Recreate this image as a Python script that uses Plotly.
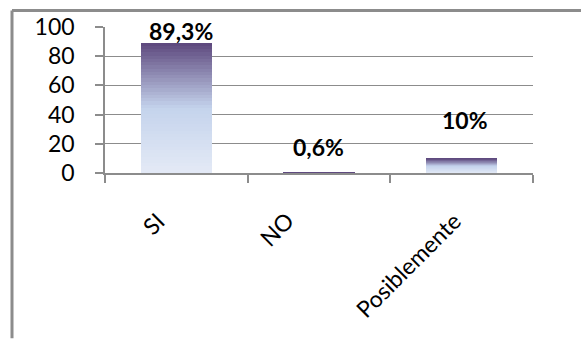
import plotly.graph_objects as go

# ---- data ----
categories = ["SI", "NO", "Posiblemente"]
values = [89.3, 0.6, 10]
value_labels = ["89,3%", "0,6%", "10%"]
y_ticks = [0, 20, 40, 60, 80, 100]

# ---- label placement (style) ----
label_y = [97, 18, 36]          # where the data labels sit (axis units)
label_xshift = [5, -1, 3]
cat_label_xshift = [-3, -17, 7]

# ---- layout constants ----
W, H = 581, 339
ML, MR, MT, MB = 105, 48, 22, 166
PW, PH = W - ML - MR, H - MT - MB
FONT = "Lato, Carlito, Calibri, sans-serif"
GRID = "#8c8c8c"

# gradient stops (t=0 top of bar, t=1 bottom)
stops = [(0.0, (92, 70, 124)), (0.5, (196, 211, 236)), (1.0, (228, 234, 246))]


def grad(t):
    for (t0, c0), (t1, c1) in zip(stops[:-1], stops[1:]):
        if t <= t1:
            f = (t - t0) / (t1 - t0)
            return "rgb(%d,%d,%d)" % tuple(round(a + (b - a) * f) for a, b in zip(c0, c1))
    return "rgb(%d,%d,%d)" % stops[-1][1]


N = 40
fig = go.Figure()
for k in range(N):
    t = 1 - (k + 0.5) / N
    fig.add_trace(go.Bar(
        x=categories,
        y=[v / N for v in values],
        width=0.5,
        marker=dict(color=grad(t), line=dict(width=0)),
        showlegend=False,
        hoverinfo="skip",
    ))

for c, lab, ly, xs in zip(categories, value_labels, label_y, label_xshift):
    fig.add_annotation(x=c, y=ly, text="<b>%s</b>" % lab, showarrow=False,
                       xshift=xs, yanchor="middle",
                       font=dict(family=FONT, size=23, color="black"))

# rotated category labels
for c, xs in zip(categories, cat_label_xshift):
    fig.add_annotation(x=c, y=0, yref="y", text=c, showarrow=False,
                       textangle=-45, xanchor="right", yanchor="top",
                       xshift=xs, yshift=-31,
                       font=dict(family=FONT, size=23, color="black"))


def px_x(p):
    return (p - ML) / PW


def px_y(p):
    return (H - MB - p) / PH


# outer chart border (top and left edges visible)
fig.add_shape(type="line", xref="paper", yref="paper",
              x0=px_x(12), x1=px_x(W + 5), y0=px_y(5), y1=px_y(5),
              line=dict(color=GRID, width=3))
fig.add_shape(type="line", xref="paper", yref="paper",
              x0=px_x(12), x1=px_x(12), y0=px_y(5), y1=px_y(H + 5),
              line=dict(color=GRID, width=3))

fig.update_layout(
    width=W, height=H,
    margin=dict(l=ML, r=MR, t=MT, b=MB),
    barmode="stack",
    bargap=0.5,
    paper_bgcolor="white",
    plot_bgcolor="white",
    font=dict(family=FONT, size=23, color="black"),
    xaxis=dict(
        type="category",
        tickson="boundaries",
        ticks="outside", ticklen=8, tickcolor=GRID, tickwidth=1.5,
        showline=True, linecolor=GRID, linewidth=1.5,
        showgrid=False,
        showticklabels=False,
    ),
    yaxis=dict(
        range=[0, 100],
        tickvals=y_ticks,
        ticks="outside", ticklen=8, tickcolor=GRID, tickwidth=1.5,
        showline=True, linecolor=GRID, linewidth=1.5,
        showgrid=True, gridcolor=GRID, gridwidth=1.3,
        zeroline=False,
        ticklabelstandoff=16,
        tickfont=dict(family=FONT, size=23, color="black"),
    ),
)

fig.write_html("out.html")
